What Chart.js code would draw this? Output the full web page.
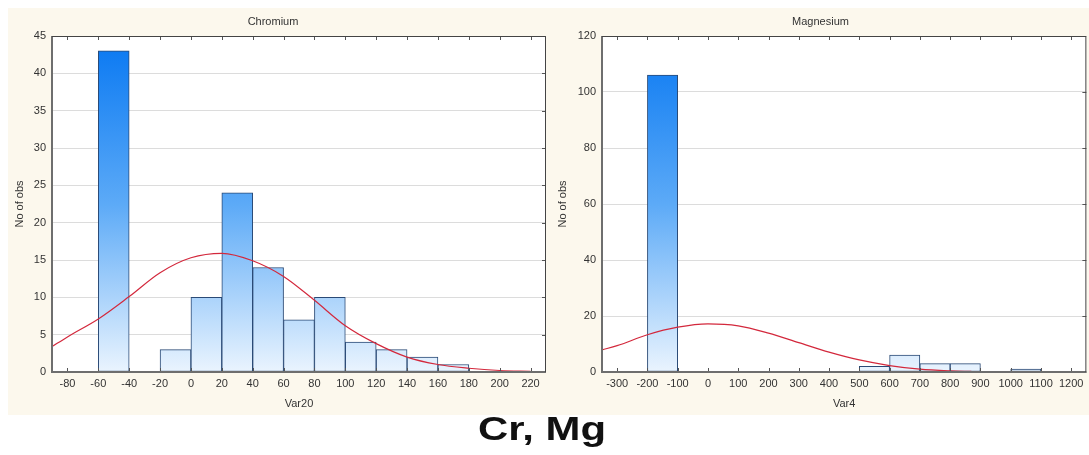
<!DOCTYPE html>
<html>
<head>
<meta charset="utf-8">
<script src="https://cdn.jsdelivr.net/npm/chart.js"></script>
<style>
    body { margin: 0; background: #fff; width: 1089px; height: 455px; position: relative; overflow: hidden; }
    .panel-bg { position: absolute; left: 8px; top: 8px; width: 1081px; height: 407px; background: #fcf8ed; }
    #cr { position: absolute; left: 0; top: 0; }
    #mg { position: absolute; left: 553px; top: 0; }
    .caption { position: absolute; left: 0; top: 412px; width: 1084px; text-align: center;
        font: bold 33px "Liberation Sans", Arial, sans-serif; line-height: 33px; color: #111;
        transform: scaleX(1.27); transform-origin: 542px 0; }
</style>
</head>
<body>
<div class="panel-bg"></div>
<canvas id="cr" width="553" height="415"></canvas>
<canvas id="mg" width="536" height="415"></canvas>
<div class="caption">Cr, Mg</div>
<script>
    //chromium histogram (bin centres, counts) and fitted curve
    const crCenters = [-70, -50, -30, -10, 10, 30, 50, 70, 90, 110, 130, 150, 170, 190, 210];
    const crCounts = [0, 43, 0, 3, 10, 24, 14, 7, 10, 4, 3, 2, 1, 0, 0];
    const crCurveX = [-90, -80, -60, -40, -20, 0, 20, 40, 60, 80, 100, 120, 140, 160, 180, 200, 220];
    const crCurveY = [3.4, 4.7, 7.1, 10.1, 13.3, 15.3, 15.9, 14.9, 12.8, 9.6, 6.2, 3.8, 2.0, 1.0, 0.5, 0.2, 0.1];
    const crXTicks = [-80, -60, -40, -20, 0, 20, 40, 60, 80, 100, 120, 140, 160, 180, 200, 220];

    //magnesium histogram and fitted curve
    const mgCenters = [-250, -150, -50, 50, 150, 250, 350, 450, 550, 650, 750, 850, 950, 1050, 1150];
    const mgCounts = [0, 106, 0, 0, 0, 0, 0, 0, 2, 6, 3, 3, 0, 1, 0];
    const mgCurveX = [-350, -300, -200, -100, 0, 100, 200, 300, 400, 500, 600, 700, 800, 870];
    const mgCurveY = [7.9, 9.4, 13.3, 16.0, 17.2, 16.5, 13.9, 10.5, 7.1, 4.3, 2.3, 1.0, 0.4, 0.2];
    const mgXTicks = [-300, -200, -100, 0, 100, 200, 300, 400, 500, 600, 700, 800, 900, 1000, 1100, 1200];

    const fontFamily = '"Liberation Sans", Arial, sans-serif';
    const textColor = '#333333';

    function barGradient(context) {
        const {ctx, chartArea} = context.chart;
        if (!chartArea) return '#5aabf8';
        const g = ctx.createLinearGradient(0, chartArea.top, 0, chartArea.bottom);
        g.addColorStop(0, '#0777f2');
        g.addColorStop(0.5, '#5caaf7');
        g.addColorStop(1, '#eaf4fe');
        return g;
    }

    //white plot area, frame and inward tick marks
    const framePlugin = {
        id: 'frame',
        beforeDraw(chart) {
            const {ctx, chartArea: a} = chart;
            ctx.save();
            ctx.fillStyle = '#ffffff';
            ctx.fillRect(a.left, a.top, a.right - a.left, a.bottom - a.top);
            ctx.restore();
        },
        afterDraw(chart) {
            const {ctx, chartArea: a, scales} = chart;
            ctx.save();
            ctx.strokeStyle = '#555555';
            ctx.lineWidth = 1;
            scales.x.ticks.forEach(t => {
                const px = Math.round(scales.x.getPixelForValue(t.value)) + 0.5;
                ctx.beginPath();
                ctx.moveTo(px, a.top); ctx.lineTo(px, a.top + 4);
                ctx.moveTo(px, a.bottom); ctx.lineTo(px, a.bottom - 4);
                ctx.stroke();
            });
            scales.y.ticks.forEach(t => {
                const py = Math.round(scales.y.getPixelForValue(t.value)) + 0.5;
                ctx.beginPath();
                ctx.moveTo(a.right, py); ctx.lineTo(a.right - 4, py);
                ctx.stroke();
            });
            ctx.strokeStyle = '#6e6e6e';
            ctx.lineWidth = 2;
            ctx.beginPath();
            ctx.moveTo(a.left, a.top); ctx.lineTo(a.left, a.bottom); ctx.lineTo(a.right, a.bottom);
            ctx.stroke();
            ctx.strokeStyle = '#444444';
            ctx.lineWidth = 1;
            ctx.beginPath();
            ctx.moveTo(a.left, a.top + 0.5); ctx.lineTo(a.right - 0.5, a.top + 0.5); ctx.lineTo(a.right - 0.5, a.bottom);
            ctx.stroke();
            ctx.restore();
        }
    };

    function makeHistogram(canvasId, opts) {
        return new Chart(document.getElementById(canvasId), {
            type: 'bar',
            data: {
                datasets: [{
                    type: 'line',
                    data: opts.curveX.map((x, i) => ({x: x, y: opts.curveY[i]})),
                    borderColor: '#d3283c',
                    borderWidth: 1.2,
                    pointRadius: 0,
                    cubicInterpolationMode: 'monotone',
                    order: 0
                }, {
                    data: opts.centers.map((x, i) => ({x: x, y: opts.counts[i]})),
                    backgroundColor: barGradient,
                    borderColor: '#2a4a76',
                    borderWidth: 1,
                    borderSkipped: false,
                    barPercentage: 1,
                    categoryPercentage: 1,
                    order: 1
                }]
            },
            options: {
                responsive: false,
                animation: false,
                layout: {padding: {left: 0, right: opts.padRight, top: 0, bottom: 0}},
                plugins: {
                    legend: {display: false},
                    tooltip: {enabled: false},
                    title: {
                        display: true,
                        text: opts.title,
                        color: textColor,
                        font: {family: fontFamily, size: 11, weight: 'normal'},
                        padding: {top: 15, bottom: 7.8}
                    }
                },
                scales: {
                    x: {
                        type: 'linear',
                        offset: false,
                        min: opts.xMin,
                        max: opts.xMax,
                        afterBuildTicks: scale => { scale.ticks = opts.xTicks.map(v => ({value: v})); },
                        afterFit: scale => { scale.height = 43; },
                        grid: {display: false, drawTicks: false},
                        border: {display: false},
                        ticks: {color: textColor, font: {family: fontFamily, size: 11}, padding: 5.5,
                            maxRotation: 0, autoSkip: false, callback: v => String(v)},
                        title: {display: true, text: opts.xTitle, color: textColor,
                            font: {family: fontFamily, size: 11}, padding: {top: 0, bottom: 4.4}}
                    },
                    y: {
                        min: 0,
                        max: opts.yMax,
                        ticks: {stepSize: opts.yStep, color: textColor, font: {family: fontFamily, size: 11}, padding: 6},
                        afterFit: scale => { scale.width = opts.yWidth; },
                        grid: {color: '#dcdcdc', drawTicks: false},
                        border: {display: false},
                        title: {display: true, text: 'No of obs', color: textColor,
                            font: {family: fontFamily, size: 11}, padding: {top: opts.yTitlePad, bottom: 0}}
                    }
                }
            },
            plugins: [framePlugin]
        });
    }

    makeHistogram('cr', {
        title: 'Chromium', xTitle: 'Var20',
        centers: crCenters, counts: crCounts, curveX: crCurveX, curveY: crCurveY, xTicks: crXTicks,
        xMin: -90, xMax: 230, yMax: 45, yStep: 5, yWidth: 52, yTitlePad: 13.4, padRight: 7
    });

    makeHistogram('mg', {
        title: 'Magnesium', xTitle: 'Var4',
        centers: mgCenters, counts: mgCounts, curveX: mgCurveX, curveY: mgCurveY, xTicks: mgXTicks,
        xMin: -350, xMax: 1250, yMax: 120, yStep: 20, yWidth: 49, yTitlePad: 3.4, padRight: 1
    });
</script>
</body>
</html>
